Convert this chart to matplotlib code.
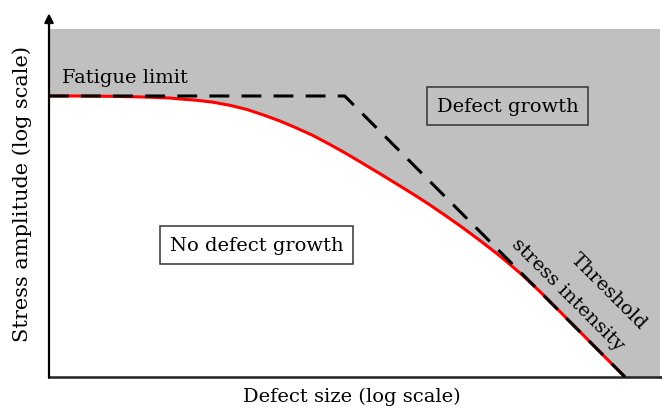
import matplotlib
matplotlib.use("Agg")
import matplotlib.pyplot as plt

plt.rcParams['font.family'] = ['DejaVu Serif']

# threshold curve (log defect size vs log stress amplitude, arbitrary units)
curve_x = [0.000, 0.507, 0.998, 1.489, 1.980, 2.144, 2.406, 2.684, 2.962,
           3.241, 3.502, 3.781, 4.043, 4.321, 4.599, 4.877, 5.139, 5.417,
           5.679, 5.957, 6.236, 6.514, 6.776, 7.054, 7.381, 7.709, 8.036,
           8.363, 8.691, 9.018, 9.427]
curve_y = [8.075, 8.075, 8.066, 8.049, 8.017, 7.989, 7.954, 7.897, 7.807,
           7.687, 7.534, 7.356, 7.161, 6.940, 6.681, 6.408, 6.135, 5.842,
           5.560, 5.259, 4.943, 4.609, 4.284, 3.922, 3.477, 2.989, 2.454,
           1.879, 1.299, 0.718, 0.000]

# asymptotes: fatigue limit and threshold stress intensity
asym_x = [0.0, 4.84, 9.427]
asym_y = [8.075, 8.075, 0.0]

fig = plt.figure(figsize=(6.62, 4.10), dpi=100)
ax = fig.add_axes([49 / 662, 32 / 410, 611 / 662, 348 / 410])
ax.set_xlim(0, 10)
ax.set_ylim(0, 10)
ax.set_facecolor('#c0c0c0')

ax.fill_between(curve_x, 0, curve_y, color='white', lw=0, zorder=1)
ax.plot(curve_x, curve_y, color='#ff0000', lw=2.2, zorder=2,
        solid_joinstyle='round', solid_capstyle='butt')
ax.plot(asym_x, asym_y, color='black', lw=2.2, dashes=(6.5, 4), zorder=3)

ax.set_xticks([])
ax.set_yticks([])
for s in ['top', 'right', 'left']:
    ax.spines[s].set_visible(False)
ax.spines['bottom'].set_linewidth(1.8)
ax.spines['bottom'].set_color('#222222')

# y axis with arrow head
ax.annotate('', xy=(0, 1.045), xytext=(0, -0.002), xycoords='axes fraction',
            arrowprops=dict(arrowstyle='-|>', color='black', lw=1.6,
                            mutation_scale=13, shrinkA=0, shrinkB=0))
# bottom axis runs to the figure edge
ax.plot([1.0, 1.01], [0, 0], transform=ax.transAxes, color='#222222',
        lw=1.8, clip_on=False, solid_capstyle='butt')

fs = 14
ax.text(0.21, 8.62, 'Fatigue limit', fontsize=fs, ha='left', va='center')
ax.text(7.51, 7.79, 'Defect growth', fontsize=fs, ha='center', va='center',
        bbox=dict(boxstyle='square,pad=0.5', fc='none', ec='#333333',
                  lw=1.1))
ax.text(3.40, 3.79, 'No defect growth', fontsize=fs, ha='center',
        va='center', bbox=dict(boxstyle='square,pad=0.5', fc='white',
                               ec='#333333', lw=1.1))
ax.text(9.15, 2.47, 'Threshold', fontsize=fs, ha='center', va='center',
        rotation=-45, rotation_mode='anchor')
ax.text(8.49, 2.39, 'stress intensity', fontsize=fs, ha='center',
        va='center', rotation=-45, rotation_mode='anchor')

fig.text(352 / 662, 1 - 397 / 410, 'Defect size (log scale)', fontsize=fs,
         ha='center', va='center')
fig.text(22 / 662, 1 - 194 / 410, 'Stress amplitude (log scale)',
         fontsize=15, ha='center', va='center', rotation=90)

fig.savefig('out.png', dpi=100)
